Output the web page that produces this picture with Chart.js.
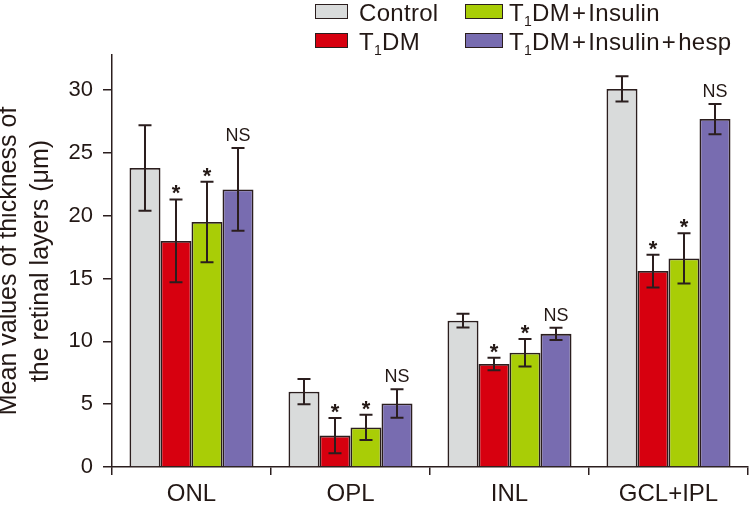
<!DOCTYPE html>
<html>
<head>
<meta charset="utf-8">
<title>Retinal layer thickness</title>
<script src="https://cdn.jsdelivr.net/npm/chart.js@4/dist/chart.umd.min.js"></script>
<style>
  body { margin: 0; background: #fff; }
  #wrap { position: relative; width: 750px; height: 506px; }
  #legend {
    position: absolute; left: 315px; top: 1px;
    display: grid; grid-template-columns: 150px auto; grid-template-rows: 24px 24px;
    row-gap: 5px; grid-auto-flow: column;
    font-family: "Liberation Sans", Arial, sans-serif; font-size: 24px; line-height: 24px;
    color: #231815; letter-spacing: 0.3px;
  }
  .item { display: flex; align-items: flex-start; height: 24px; white-space: nowrap; }
  .box { height: 15px; margin-top: 3px; border: 1.5px solid #2b1e1e; box-sizing: border-box; }
  .item sub { font-size: 14px; vertical-align: -5px; line-height: 0; }
  .plus { margin: 0 2px; }
</style>
</head>
<body>
<div id="wrap">
  <canvas id="chart" width="750" height="506"></canvas>
  <div id="legend"></div>
</div>
<script>
// data
const categories = ["ONL", "OPL", "INL", "GCL+IPL"];
const seriesNames = ["Control", "T₁DM", "T₁DM+Insulin", "T₁DM+Insulin+hesp"];
const seriesColors = ["#d9dbdb", "#d7000f", "#a9cd06", "#786cb0"];
const seriesMarks = ["", "*", "*", "NS"];

const control = [23.8, 6.0, 11.65, 30.1];
const controlErr = [3.4, 1.0, 0.55, 1.0];
const t1dm = [18.0, 2.5, 8.2, 15.6];
const t1dmErr = [3.3, 1.4, 0.5, 1.3];
const insulin = [19.5, 3.15, 9.1, 16.6];
const insulinErr = [3.2, 1.0, 1.1, 2.0];
const hesp = [22.1, 5.05, 10.6, 27.7];
const hespErr = [3.3, 1.13, 0.48, 1.2];

const yTicks = [0, 5, 10, 15, 20, 25, 30];

const values = [control, t1dm, insulin, hesp];
const errors = [controlErr, t1dmErr, insulinErr, hespErr];

const axisColor = "#2b1e1e";
const textColor = "#231815";
const fontFamily = '"Liberation Sans", Arial, sans-serif';

// error bars and significance marks
const errorBars = {
  id: "errorBars",
  afterDatasetsDraw(chart) {
    const ctx = chart.ctx;
    const yScale = chart.scales.y;
    chart.data.datasets.forEach((ds, i) => {
      const meta = chart.getDatasetMeta(i);
      meta.data.forEach((bar, j) => {
        const hi = yScale.getPixelForValue(ds.data[j] + ds.errors[j]);
        const lo = yScale.getPixelForValue(ds.data[j] - ds.errors[j]);
        const x = bar.x;
        const cap = 6.5;
        ctx.save();
        ctx.strokeStyle = axisColor;
        ctx.lineWidth = 2;
        ctx.beginPath();
        ctx.moveTo(x, hi); ctx.lineTo(x, lo);
        ctx.moveTo(x - cap, hi); ctx.lineTo(x + cap, hi);
        ctx.moveTo(x - cap, lo); ctx.lineTo(x + cap, lo);
        ctx.stroke();

        const mark = seriesMarks[i];
        if (mark) {
          ctx.fillStyle = textColor;
          ctx.textAlign = "center";
          ctx.textBaseline = "alphabetic";
          if (mark === "*") {
            ctx.font = "bold 22px " + fontFamily;
            ctx.fillText(mark, x, hi + 1);
          } else {
            ctx.font = "18px " + fontFamily;
            ctx.fillText(mark, x, hi - 7);
          }
        }
        ctx.restore();
      });
    });
  }
};

const chart = new Chart(document.getElementById("chart"), {
  type: "bar",
  data: {
    labels: categories,
    datasets: seriesNames.map((name, i) => ({
      label: name,
      data: values[i],
      errors: errors[i],
      backgroundColor: seriesColors[i],
      borderColor: axisColor,
      borderWidth: 1.8,
      categoryPercentage: 0.78,
      barPercentage: 1.0
    }))
  },
  options: {
    responsive: false,
    animation: false,
    devicePixelRatio: 1,
    layout: { padding: { top: 55, right: 2, left: 0, bottom: 0 } },
    plugins: {
      legend: { display: false },
      tooltip: { enabled: false }
    },
    scales: {
      x: {
        grid: { offset: true, drawOnChartArea: false, tickLength: 8, color: axisColor, lineWidth: 1.5 },
        border: { color: axisColor, width: 1.5 },
        ticks: { color: textColor, font: { family: fontFamily, size: 24 }, padding: 5 },
        afterFit(scale) { scale.height = 39; }
      },
      y: {
        min: 0,
        max: 32.8,
        grid: { drawOnChartArea: false, tickLength: 9, color: axisColor, lineWidth: 1.5 },
        border: { color: axisColor, width: 1.5 },
        ticks: { color: textColor, font: { family: fontFamily, size: 22 }, padding: 10 },
        afterBuildTicks(scale) { scale.ticks = yTicks.map(v => ({ value: v })); },
        title: {
          display: true,
          text: ["Mean values of thickness of", "the retinal layers (μm)"],
          color: textColor,
          font: { family: fontFamily, size: 25, lineHeight: 1.28 },
          padding: { top: -7, bottom: 0 }
        },
        afterFit(scale) { scale.width = 112; }
      }
    }
  },
  plugins: [errorBars]
});

// legend laid out as in the figure (two columns)
const legend = document.getElementById("legend");
const boxWidths = [33, 33, 38, 38];
const gaps = [11, 11, 6, 6];
seriesNames.forEach((name, i) => {
  const item = document.createElement("div");
  item.className = "item";
  const html = name
    .replace("₁", "<sub>1</sub>")
    .split("+").join('<span class="plus">+</span>');
  item.innerHTML = `<span class="box" style="width:${boxWidths[i]}px;margin-right:${gaps[i]}px;background:${seriesColors[i]}"></span><span>${html}</span>`;
  legend.appendChild(item);
});
</script>
</body>
</html>
